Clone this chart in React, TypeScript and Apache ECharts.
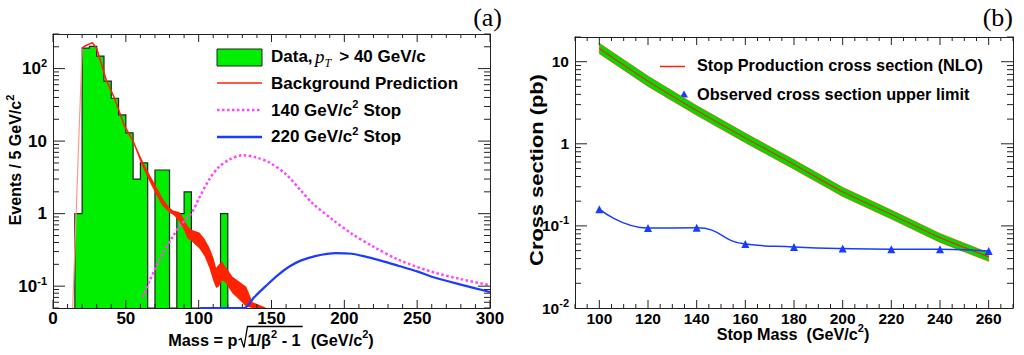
import React, { useEffect, useRef } from 'react';
import * as echarts from 'echarts';

// ---------------- Panel (a) data ----------------
const binLow = [15, 20, 25, 30, 35, 40, 45, 50, 55, 60, 65, 70, 75, 80, 85, 90, 95, 100, 105, 110, 115];
const binCounts = [1, 192, 202, 149, 67, 39, 23, 13, 3, 5, 0, 4, 4, 0, 1, 2, 0, 0, 0, 0, 1];
const BIN_W = 5;

const bgRiseMass = [13.5, 20];
const bgRiseVal = [0.05, 190];
const bgLineMass = [20, 22, 27, 30, 36.6, 42, 49, 55];
const bgLineVal = [190, 205, 228, 188, 69, 40, 16.3, 10];
const bgBandMass = [55, 60, 63, 66.5, 70.8, 75, 80, 83, 86.8, 89, 92.5, 95, 100.5, 104, 107.3, 110, 112, 114, 116, 118, 123.3, 128, 132.7, 137, 146];
const bgBandHigh = [10.5, 6.2, 4.6, 3.4, 2.39, 1.65, 1.2, 1.1, 1.05, 0.9, 0.67, 0.6, 0.55, 0.45, 0.34, 0.25, 0.18, 0.2, 0.22, 0.19, 0.135, 0.115, 0.098, 0.06, 0.051];
const bgBandLow = [9.5, 5.2, 3.8, 2.7, 1.84, 1.3, 1.03, 0.95, 0.78, 0.65, 0.45, 0.42, 0.33, 0.26, 0.18, 0.12, 0.094, 0.1, 0.12, 0.115, 0.079, 0.065, 0.052, 0.05, 0.05];

const sig140Mass = [61.5, 66, 70.8, 76, 82.2, 86.8, 94.8, 100, 107.3, 113.4, 121.2, 130.4, 139.6, 148.7, 160, 170, 178, 191.8, 205, 220, 237.5, 260, 280, 300];
const sig140Val = [0.07, 0.115, 0.185, 0.3, 0.48, 0.67, 1.0, 1.6, 2.97, 4.3, 5.6, 6.4, 5.94, 5.06, 3.48, 2.1, 1.4, 0.83, 0.53, 0.35, 0.23, 0.158, 0.125, 0.103];

const sig220Mass = [101, 131, 138, 146, 154, 162, 170, 180, 194, 205, 214.6, 225, 237.5, 250, 260, 280, 300];
const sig220Val = [0.05, 0.05, 0.07, 0.1, 0.14, 0.185, 0.225, 0.26, 0.285, 0.28, 0.255, 0.225, 0.19, 0.16, 0.135, 0.105, 0.083];

// ---------------- Panel (b) data ----------------
const nloMass = [100, 120, 140, 160, 180, 200, 220, 240, 260];
const nloXsec = [14.5, 5.8, 2.55, 1.18, 0.56, 0.26, 0.138, 0.072, 0.042];
const nloHigh = [16.8, 6.7, 2.92, 1.35, 0.64, 0.295, 0.156, 0.081, 0.047];
const nloLow = [12.5, 5.0, 2.22, 1.03, 0.49, 0.228, 0.121, 0.063, 0.037];

const limMass = [100, 120, 140, 160, 180, 200, 220, 240, 260];
const limVal = [0.16, 0.094, 0.095, 0.06, 0.0555, 0.053, 0.052, 0.052, 0.0495];

// axis ranges
const A_X = [0, 300];
const A_Y = [0.05, 300];
const B_X = [90, 270];
const B_Y = [0.01, 20];

const SANS = '"Liberation Sans", Arial, Helvetica, sans-serif';
const SERIF = '"Liberation Serif", "Times New Roman", serif';
const FRAME = '#222';
const HIST_GREEN = '#00ee00';
const BAND_GREEN = '#00dd00';
const RED = '#ff2200';
const MAGENTA = '#ff44ff';
const BLUE = '#1a3cff';

type Piece = { t: string; size: number; italic?: boolean; serif?: boolean; weight?: string; dy?: number; dx?: number };
let measureCtx: CanvasRenderingContext2D | null = null;
function fontOf(p: Piece) {
  return `${p.italic ? 'italic ' : ''}${p.weight ?? 'bold'} ${p.size}px ${p.serif ? SERIF : SANS}`;
}
function textWidth(p: Piece) {
  if (!measureCtx) measureCtx = document.createElement('canvas').getContext('2d');
  measureCtx!.font = fontOf(p);
  return measureCtx!.measureText(p.t).width;
}
function piecesWidth(ps: Piece[]) {
  return ps.reduce((s, p) => s + (p.dx ?? 0) + textWidth(p), 0);
}
function placePieces(ps: Piece[], x0: number, y: number) {
  const out: any[] = [];
  let x = x0;
  for (const p of ps) {
    x += p.dx ?? 0;
    out.push({
      type: 'text', silent: true,
      style: { text: p.t, x, y: y + (p.dy ?? 0), font: fontOf(p), fill: '#000', textAlign: 'left', textVerticalAlign: 'middle' },
    });
    x += textWidth(p);
  }
  return out;
}

function range(a: number, b: number, step: number) {
  const r: number[] = [];
  for (let v = a; v <= b + 1e-9; v += step) r.push(Math.round(v * 1000) / 1000);
  return r;
}
function logMinor(lo: number, hi: number) {
  const r: number[] = [];
  for (let d = -3; d <= 3; d++) {
    for (let k = 2; k <= 9; k++) {
      const v = k * Math.pow(10, d);
      if (v >= lo * 0.999 && v <= hi * 1.001) r.push(v);
    }
  }
  return r;
}

function tickSeries(xi: number, yi: number, xr: number[], yr: number[], xMaj: number[], xMin: number[], yMaj: number[], yMin: number[]) {
  return {
    type: 'custom', xAxisIndex: xi, yAxisIndex: yi, silent: true, z: 5,
    data: [[xr[0], yr[0]]],
    encode: { x: 0, y: 1 },
    renderItem: (params: any, api: any) => {
      const cs = params.coordSys;
      const top = cs.y, bottom = cs.y + cs.height, left = cs.x, right = cs.x + cs.width;
      const ch: any[] = [];
      const ln = (x1: number, y1: number, x2: number, y2: number) =>
        ch.push({ type: 'line', shape: { x1, y1, x2, y2 }, style: { stroke: FRAME, lineWidth: 1 } });
      const addX = (v: number, len: number) => {
        const px = api.coord([v, yr[0]])[0];
        ln(px, bottom, px, bottom - len);
        ln(px, top, px, top + len);
      };
      const addY = (v: number, len: number) => {
        const py = api.coord([xr[0], v])[1];
        ln(left, py, left + len, py);
        ln(right, py, right - len, py);
      };
      xMaj.forEach((v) => addX(v, 8));
      xMin.forEach((v) => addX(v, 4));
      yMaj.forEach((v) => addY(v, 12));
      yMin.forEach((v) => addY(v, 6));
      return { type: 'group', children: ch };
    },
  };
}

function logLabel(v: number) {
  const l = Math.log10(v);
  const r = Math.round(l);
  if (Math.abs(l - r) > 1e-6) return '';
  if (r === 0) return '1';
  if (r === 1) return '10';
  return `10{s|${r}}`;
}

function buildOption() {
  const frameLine = { show: true, onZero: false, lineStyle: { color: FRAME, width: 1 } };
  const noTick = { show: false };
  const noSplit = { show: false };
  const supRich = (size: number) => ({
    s: { fontSize: size, fontWeight: 'bold', fontFamily: SANS, color: '#000', verticalAlign: 'top', lineHeight: size + 1 },
  });

  // histogram: one item per bin for the axis extent; drawn as a whole by item 0
  const histData = binLow.map((lo, i) => [lo + BIN_W / 2, binCounts[i] > 0 ? binCounts[i] : A_Y[0]]);
  const histSeries = {
    type: 'custom', xAxisIndex: 0, yAxisIndex: 0, clip: true, silent: true, z: 1,
    data: histData, encode: { x: 0, y: 1 },
    renderItem: (params: any, api: any) => {
      if (params.dataIndex !== 0) return null;
      const yb = api.coord([A_X[0], A_Y[0]])[1];
      const fills: any[] = [];
      let run: number[][] | null = null;
      const outline: number[][] = [];
      binLow.forEach((lo, i) => {
        const c = binCounts[i];
        const x0 = api.coord([lo, A_Y[0]])[0];
        const x1 = api.coord([lo + BIN_W, A_Y[0]])[0];
        const yt = c > 0 ? api.coord([lo, c])[1] : yb;
        outline.push([x0, yt], [x1, yt]);
        if (c > 0) {
          if (!run) run = [[x0, yb]];
          run.push([x0, yt], [x1, yt]);
        } else if (run) {
          run.push([run[run.length - 1][0], yb]);
          fills.push(run);
          run = null;
        }
      });
      if (run) {
        const r = run as number[][];
        r.push([r[r.length - 1][0], yb]);
        fills.push(r);
      }
      outline.unshift([outline[0][0], yb]);
      outline.push([outline[outline.length - 1][0], yb]);
      const children: any[] = fills.map((pts) => ({ type: 'polygon', shape: { points: pts }, style: { fill: HIST_GREEN, stroke: 'none' } }));
      children.push({ type: 'polyline', shape: { points: outline }, style: { fill: 'none', stroke: '#222', lineWidth: 1.2 } });
      return { type: 'group', children };
    },
  };

  const bandSeries = (xi: number, yi: number, xs: number[], hi: number[], lo: number[], style: any, z: number) => ({
    type: 'custom', xAxisIndex: xi, yAxisIndex: yi, clip: true, silent: true, z,
    data: xs.map((m, i) => [m, hi[i]]), encode: { x: 0, y: 1 },
    renderItem: (params: any, api: any) => {
      if (params.dataIndex !== 0) return null;
      const pts: number[][] = [];
      xs.forEach((m, i) => pts.push(api.coord([m, hi[i]])));
      for (let i = xs.length - 1; i >= 0; i--) pts.push(api.coord([xs[i], lo[i]]));
      return { type: 'polygon', shape: { points: pts }, style };
    },
  });

  const pair = (xs: number[], ys: number[]) => xs.map((x, i) => [x, ys[i]]);

  const series: any[] = [
    histSeries,
    bandSeries(0, 0, bgBandMass, bgBandHigh, bgBandLow, { fill: RED, stroke: 'none' }, 3),
    { type: 'line', xAxisIndex: 0, yAxisIndex: 0, data: pair(bgRiseMass, bgRiseVal), showSymbol: false, symbol: 'none', lineStyle: { color: '#ff9a8a', width: 1.2 }, z: 3 },
    { type: 'line', xAxisIndex: 0, yAxisIndex: 0, data: pair(bgLineMass, bgLineVal), showSymbol: false, symbol: 'none', lineStyle: { color: RED, width: 1.6 }, z: 3 },
    { type: 'line', xAxisIndex: 0, yAxisIndex: 0, data: pair(sig140Mass, sig140Val), smooth: 0.3, showSymbol: false, symbol: 'none', lineStyle: { color: MAGENTA, width: 2.5, type: [2.5, 2.5] }, z: 4 },
    { type: 'line', xAxisIndex: 0, yAxisIndex: 0, data: pair(sig220Mass, sig220Val), smooth: 0.3, showSymbol: false, symbol: 'none', lineStyle: { color: BLUE, width: 2.2 }, z: 4 },
    tickSeries(0, 0, A_X, A_Y, range(0, 300, 50), range(10, 290, 10).filter((v) => v % 50 !== 0), [0.1, 1, 10, 100], logMinor(A_Y[0], A_Y[1])),

    bandSeries(2, 2, nloMass, nloHigh, nloLow, { fill: BAND_GREEN, stroke: '#ff3300', lineWidth: 0.6 }, 2),
    { type: 'line', xAxisIndex: 2, yAxisIndex: 2, data: pair(nloMass, nloXsec), smooth: 0.3, showSymbol: false, symbol: 'none', lineStyle: { color: RED, width: 1.2 }, z: 3 },
    { type: 'line', xAxisIndex: 2, yAxisIndex: 2, data: pair(limMass, limVal), smooth: 0.5, symbol: 'triangle', symbolSize: 8, showSymbol: true, itemStyle: { color: BLUE }, lineStyle: { color: BLUE, width: 1.5 }, z: 4 },
    tickSeries(2, 2, B_X, B_Y, range(100, 260, 20), range(90, 270, 5).filter((v) => !(v % 20 === 0 && v >= 100 && v <= 260)), [0.1, 1, 10], logMinor(B_Y[0], B_Y[1])),
  ];

  // ---------- graphic texts ----------
  const g: any[] = [];
  g.push({ type: 'text', silent: true, style: { text: '(a)', x: 502, y: 17, font: `normal 26px ${SERIF}`, fill: '#000', textAlign: 'right', textVerticalAlign: 'middle' } });
  g.push({ type: 'text', silent: true, style: { text: '(b)', x: 1013, y: 17, font: `normal 26px ${SERIF}`, fill: '#000', textAlign: 'right', textVerticalAlign: 'middle' } });

  // left legend
  g.push({ type: 'rect', silent: true, shape: { x: 217, y: 49, width: 45, height: 17 }, style: { fill: HIST_GREEN, stroke: '#222', lineWidth: 1 } });
  g.push({ type: 'line', silent: true, shape: { x1: 217, y1: 83, x2: 262, y2: 83 }, style: { stroke: RED, lineWidth: 1.5 } });
  g.push({ type: 'line', silent: true, shape: { x1: 217, y1: 110, x2: 262, y2: 110 }, style: { stroke: MAGENTA, lineWidth: 2.5, lineDash: [2.5, 2.5] } });
  g.push({ type: 'line', silent: true, shape: { x1: 217, y1: 137, x2: 262, y2: 137 }, style: { stroke: BLUE, lineWidth: 2.5 } });
  const LF = 17;
  g.push(...placePieces([
    { t: 'Data,', size: LF },
    { t: 'p', size: 19, italic: true, serif: true, weight: 'normal', dx: 2.5 },
    { t: 'T', size: 12, italic: true, serif: true, weight: 'normal', dy: 7 },
    { t: '> 40 GeV/c', size: LF, dx: 8 },
  ], 271, 56));
  g.push(...placePieces([{ t: 'Background Prediction', size: LF }], 271, 83));
  g.push(...placePieces([{ t: '140 GeV/c', size: LF }, { t: '2', size: 11, dy: -6 }, { t: 'Stop', size: LF, dx: 5 }], 271, 110));
  g.push(...placePieces([{ t: '220 GeV/c', size: LF }, { t: '2', size: 11, dy: -6 }, { t: 'Stop', size: LF, dx: 5 }], 271, 136.5));

  // left x title with radical
  const TF = 16.3;
  const p1: Piece[] = [{ t: 'Mass = p', size: TF }];
  const p2: Piece[] = [{ t: '1/β', size: TF }, { t: '2', size: 11, dy: -6 }, { t: ' - 1', size: TF }];
  const p3: Piece[] = [{ t: '(GeV/c', size: TF }, { t: '2', size: 11, dy: -6 }, { t: ')', size: TF }];
  const w1 = piecesWidth(p1), w2 = piecesWidth(p2), w3 = piecesWidth(p3);
  const RAD = 10, GAP = 10;
  const total = w1 + RAD + w2 + GAP + w3;
  const xs0 = 271 - total / 2;
  const ty = 340;
  g.push(...placePieces(p1, xs0, ty));
  const xr = xs0 + w1 + 1;
  g.push({ type: 'polyline', silent: true, shape: { points: [[xr, ty], [xr + 2.5, ty - 1.5], [xr + 5.5, ty + 7.5], [xr + 9, ty - 13.5], [xr + RAD + w2 + 1, ty - 13.5]] }, style: { stroke: '#000', lineWidth: 1.3, fill: 'none' } });
  g.push(...placePieces(p2, xs0 + w1 + RAD, ty));
  g.push(...placePieces(p3, xs0 + w1 + RAD + w2 + GAP, ty));

  // left y title
  const yl: Piece[] = [{ t: 'Events / 5 GeV/c', size: 16 }, { t: '2', size: 11, dy: -6 }];
  g.push({ type: 'group', x: 15.5, y: 160, rotation: Math.PI / 2, children: placePieces(yl, -piecesWidth(yl) / 2, 0) });

  // right legend
  g.push({ type: 'line', silent: true, shape: { x1: 660, y1: 66.5, x2: 685, y2: 66.5 }, style: { stroke: RED, lineWidth: 1.5 } });
  g.push({ type: 'polygon', silent: true, shape: { points: [[684, 90.5], [688, 97.5], [680, 97.5]] }, style: { fill: BLUE } });
  const RF = 16.3;
  g.push(...placePieces([{ t: 'Stop Production cross section (NLO)', size: RF }], 697, 64.5));
  g.push(...placePieces([{ t: 'Observed cross section upper limit', size: RF }], 697, 93.5));

  // right x title
  const rx: Piece[] = [{ t: 'Stop Mass', size: 16.2 }, { t: '(GeV/c', size: 16.2, dx: 9 }, { t: '2', size: 11, dy: -6 }, { t: ')', size: 16.2 }];
  g.push(...placePieces(rx, 793 - piecesWidth(rx) / 2, 334));
  // right y title
  const ry: Piece[] = [{ t: 'Cross section (pb)', size: 19 }];
  g.push({ type: 'group', x: 536, y: 170, rotation: Math.PI / 2, scaleX: 1.15, children: placePieces(ry, -piecesWidth(ry) / 2, 0) });

  const xLabel = (size: number, fmt?: any) => ({ show: true, fontFamily: SANS, fontWeight: 'bold', fontSize: size, color: '#000', margin: 2, formatter: fmt });
  const yLabel = (size: number) => ({
    show: true, fontFamily: SANS, fontWeight: 'bold', fontSize: size, color: '#000', margin: 6, lineHeight: 22,
    formatter: logLabel, rich: supRich(11),
  });

  return {
    animation: false,
    backgroundColor: '#fff',
    textStyle: { fontFamily: SANS },
    grid: [
      { left: 53, top: 34, width: 437, height: 274 },
      { left: 575, top: 37, width: 438, height: 271 },
    ],
    xAxis: [
      { gridIndex: 0, type: 'value', min: A_X[0], max: A_X[1], interval: 50, position: 'bottom', axisLine: frameLine, axisTick: noTick, splitLine: noSplit, axisLabel: xLabel(17) },
      { gridIndex: 0, type: 'value', min: A_X[0], max: A_X[1], interval: 50, position: 'top', axisLine: frameLine, axisTick: noTick, splitLine: noSplit, axisLabel: { show: false } },
      {
        gridIndex: 1, type: 'value', min: B_X[0], max: B_X[1], interval: 10, position: 'bottom', axisLine: frameLine, axisTick: noTick, splitLine: noSplit,
        axisLabel: xLabel(15.5, (v: number) => (v % 20 === 0 && v >= 100 && v <= 260 ? String(v) : '')),
      },
      { gridIndex: 1, type: 'value', min: B_X[0], max: B_X[1], interval: 10, position: 'top', axisLine: frameLine, axisTick: noTick, splitLine: noSplit, axisLabel: { show: false } },
    ],
    yAxis: [
      { gridIndex: 0, type: 'log', min: A_Y[0], max: A_Y[1], position: 'left', axisLine: frameLine, axisTick: noTick, splitLine: noSplit, axisLabel: yLabel(17) },
      { gridIndex: 0, type: 'log', min: A_Y[0], max: A_Y[1], position: 'right', axisLine: frameLine, axisTick: noTick, splitLine: noSplit, axisLabel: { show: false } },
      { gridIndex: 1, type: 'log', min: B_Y[0], max: B_Y[1], position: 'left', axisLine: frameLine, axisTick: noTick, splitLine: noSplit, axisLabel: yLabel(15.5) },
      { gridIndex: 1, type: 'log', min: B_Y[0], max: B_Y[1], position: 'right', axisLine: frameLine, axisTick: noTick, splitLine: noSplit, axisLabel: { show: false } },
    ],
    series,
    graphic: g,
  };
}

export default function App() {
  const ref = useRef<HTMLDivElement>(null);
  useEffect(() => {
    const chart = echarts.init(ref.current!, null, { renderer: 'svg' });
    chart.setOption(buildOption() as any);
    return () => chart.dispose();
  }, []);
  return <div ref={ref} style={{ position: 'fixed', left: 0, top: 0, width: 1024, height: 355, background: '#fff' }} />;
}
